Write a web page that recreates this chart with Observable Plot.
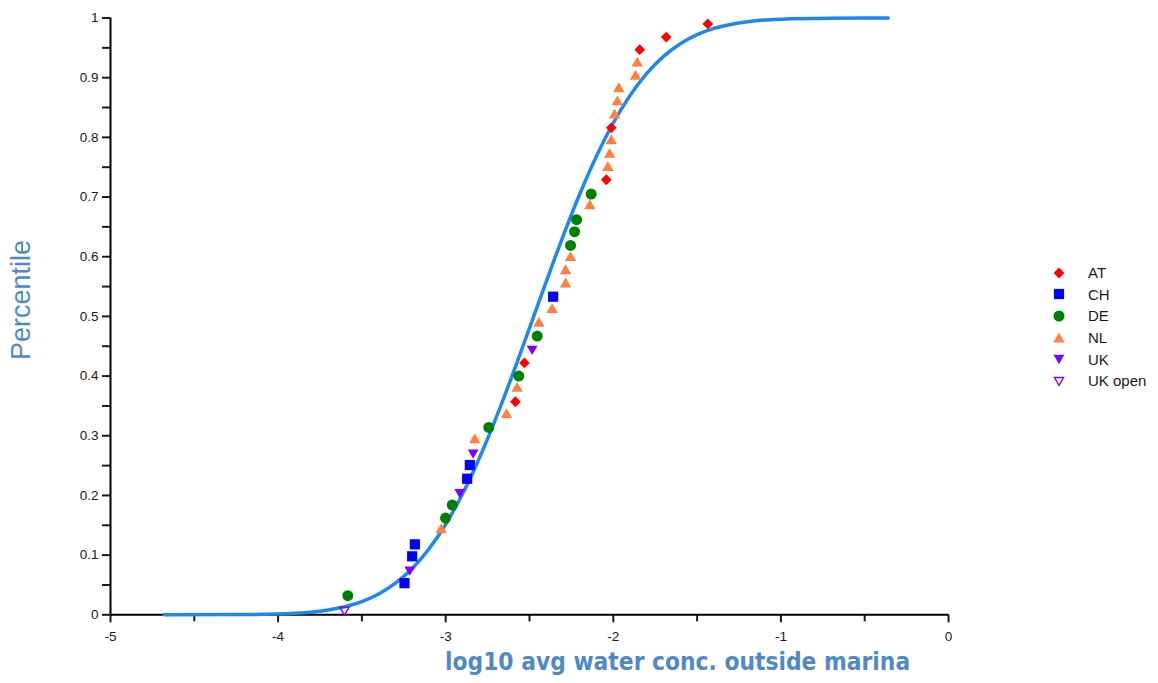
<!DOCTYPE html>
<html>
<head>
<meta charset="utf-8">
<script src="https://cdn.jsdelivr.net/npm/d3@7"></script>
<script src="https://cdn.jsdelivr.net/npm/@observablehq/plot@0.6"></script>
<style>
  body { margin: 0; background: #fff; }
  #wrap { position: relative; width: 1158px; height: 683px; font-family: "Liberation Sans", Arial, sans-serif; }
  #wrap > svg { position: absolute; left: 0; top: 0; }
  #ylab { position: absolute; left: 21px; top: 300px; transform: translate(-50%, -50%) rotate(-90deg);
          font: 27px "Liberation Sans", Arial, sans-serif; color: #5189c6; white-space: nowrap; }
  #xlab { position: absolute; left: 445px; top: 647px; font: bold 24.3px "DejaVu Sans Condensed", "DejaVu Sans", sans-serif;
          color: #5189c6; white-space: nowrap; line-height: normal; }
  #legend { position: absolute; left: 1049px; top: 262px; }
  .lrow { display: flex; align-items: center; height: 21.6px; }
  .lrow svg { width: 20px; height: 20px; display: block; }
  .lrow span { margin-left: 19px; font: 15px "Liberation Sans", Arial, sans-serif; color: #1a1a1a; }
</style>
</head>
<body>
<div id="wrap">
  <div id="ylab">Percentile</div>
  <div id="xlab">log10 avg water conc. outside marina</div>
  <div id="legend"></div>
</div>
<script>
// ---- data ----
const seriesNames = ["AT", "CH", "DE", "NL", "UK", "UK open"];

const AT_x = [-1.436, -1.684, -1.842, -2.012, -2.042, -2.530, -2.584];
const AT_y = [0.990, 0.968, 0.947, 0.816, 0.729, 0.422, 0.357];

const CH_x = [-2.359, -2.856, -2.872, -3.184, -3.200, -3.246];
const CH_y = [0.533, 0.251, 0.228, 0.118, 0.098, 0.053];

const DE_x = [-2.132, -2.219, -2.231, -2.255, -2.454, -2.564, -2.743, -2.961, -3.001, -3.584];
const DE_y = [0.705, 0.662, 0.642, 0.619, 0.467, 0.400, 0.314, 0.184, 0.162, 0.032];

const NL_x = [-1.857, -1.867, -1.967, -1.976, -1.992, -2.012, -2.022, -2.032, -2.140, -2.255, -2.285, -2.285, -2.365, -2.444, -2.574, -2.637, -2.826, -3.027];
const NL_y = [0.926, 0.904, 0.883, 0.861, 0.839, 0.796, 0.773, 0.751, 0.687, 0.600, 0.578, 0.556, 0.513, 0.490, 0.381, 0.337, 0.295, 0.144];

const UK_x = [-2.484, -2.836, -2.916, -3.214];
const UK_y = [0.444, 0.270, 0.204, 0.074];

const UKopen_x = [-3.604];
const UKopen_y = [0.007];

// fitted curve
const curveX = [-4.68, -4.2, -3.9, -3.7, -3.5, -3.4, -3.3, -3.2, -3.1, -3.0, -2.9, -2.8, -2.7, -2.6, -2.5, -2.4, -2.3, -2.2, -2.1, -2.0, -1.9, -1.8, -1.7, -1.6, -1.5, -1.4, -1.2, -1.0, -0.7, -0.36];
const curveY = [0.000, 0.0004, 0.0026, 0.0082, 0.0222, 0.0349, 0.0529, 0.0776, 0.1102, 0.1517, 0.2024, 0.2620, 0.3296, 0.4032, 0.4805, 0.5584, 0.6342, 0.7051, 0.7689, 0.8241, 0.8702, 0.9072, 0.9357, 0.9569, 0.9720, 0.9825, 0.9938, 0.9981, 0.9997, 1.0];

const xMajor = [-5, -4, -3, -2, -1, 0];
const xMinor = [-4.5, -3.5, -2.5, -1.5, -0.5];
const yMajor = [0, 0.1, 0.2, 0.3, 0.4, 0.5, 0.6, 0.7, 0.8, 0.9, 1];
const yMinor = [0.05, 0.15, 0.25, 0.35, 0.45, 0.55, 0.65, 0.75, 0.85, 0.95];
const yTickLabels = ["0", "0.1", "0.2", "0.3", "0.4", "0.5", "0.6", "0.7", "0.8", "0.9", "1"];

// ---- symbols ----
const symDiamond = { draw(c, s) { const r = Math.sqrt(s / Math.PI); c.moveTo(0, -r); c.lineTo(r, 0); c.lineTo(0, r); c.lineTo(-r, 0); c.closePath(); } };
const symSquare = { draw(c, s) { const r = Math.sqrt(s / Math.PI); c.moveTo(-r, -r); c.lineTo(r, -r); c.lineTo(r, r); c.lineTo(-r, r); c.closePath(); } };
const symCircle = { draw(c, s) { const r = Math.sqrt(s / Math.PI); c.moveTo(r, 0); c.arc(0, 0, r, 0, 2 * Math.PI); } };
const symUp = { draw(c, s) { const r = Math.sqrt(s / Math.PI); c.moveTo(0, -r); c.lineTo(r * 1.05, r * 0.8); c.lineTo(-r * 1.05, r * 0.8); c.closePath(); } };
const symDown = { draw(c, s) { const r = Math.sqrt(s / Math.PI); c.moveTo(0, r); c.lineTo(r * 1.05, -r * 0.8); c.lineTo(-r * 1.05, -r * 0.8); c.closePath(); } };

const styles = [
  { sym: symDiamond, r: 5.4, fill: "#ff0000", stroke: "none" },
  { sym: symSquare, r: 5.1, fill: "#0000ff", stroke: "none" },
  { sym: symCircle, r: 5.5, fill: "#008000", stroke: "none" },
  { sym: symUp, r: 5.5, fill: "#ff8040", stroke: "none" },
  { sym: symDown, r: 5.2, fill: "#8000ff", stroke: "none" },
  { sym: symDown, r: 4.4, fill: "none", stroke: "#8000ff" }
];

const seriesX = [AT_x, CH_x, DE_x, NL_x, UK_x, UKopen_x];
const seriesY = [AT_y, CH_y, DE_y, NL_y, UK_y, UKopen_y];
const seriesData = seriesNames.map((name, i) => seriesX[i].map((x, j) => ({ series: name, x, y: seriesY[i][j] })));
const curveData = curveX.map((x, i) => ({ x, y: curveY[i] }));

const dotMarks = seriesData.map((data, i) => Plot.dot(data, {
  x: "x", y: "y", symbol: styles[i].sym, r: styles[i].r,
  fill: styles[i].fill, stroke: styles[i].stroke, strokeWidth: 1.4
}));

const chart = Plot.plot({
  width: 1158,
  height: 683,
  marginLeft: 110,
  marginRight: 210,
  marginTop: 17.5,
  marginBottom: 68.7,
  x: { domain: [-5, 0] },
  y: { domain: [0, 1] },
  style: { fontFamily: "'Liberation Sans', Arial, sans-serif", fontSize: "13.5px", color: "#1a1a1a", background: "#fff" },
  marks: [
    Plot.axisY({ ticks: yMajor, tickSize: 8, tickPadding: 4, strokeWidth: 2, label: null, fontSize: 13.5,
                 tickFormat: d => yTickLabels[yMajor.indexOf(d)] }),
    Plot.axisY({ ticks: yMinor, tickSize: 8, strokeWidth: 2, text: null, label: null }),
    Plot.axisX({ ticks: xMajor, tickSize: 8, tickPadding: 9, strokeWidth: 2, label: null, fontSize: 13.5, tickFormat: d => String(d) }),
    Plot.axisX({ ticks: xMinor, tickSize: 7, strokeWidth: 2, text: null, label: null }),
    Plot.ruleX([-5], { strokeWidth: 2, stroke: "#000" }),
    Plot.ruleY([0], { strokeWidth: 2, stroke: "#000" }),
    Plot.line(curveData, { x: "x", y: "y", stroke: "#1e88f0", strokeWidth: 3.5, curve: "monotone-x" }),
    ...dotMarks
  ]
});
document.getElementById("wrap").prepend(chart);

// ---- legend ----
const legend = d3.select("#legend");
seriesNames.forEach((name, i) => {
  const row = legend.append("div").attr("class", "lrow");
  const svg = row.append("svg").attr("viewBox", "-10 -10 20 20");
  const st = styles[i];
  svg.append("path")
    .attr("d", d3.symbol().type(st.sym).size(st.r * st.r * Math.PI)())
    .attr("fill", st.fill).attr("stroke", st.stroke).attr("stroke-width", 1.4);
  row.append("span").text(name);
});
</script>
</body>
</html>
